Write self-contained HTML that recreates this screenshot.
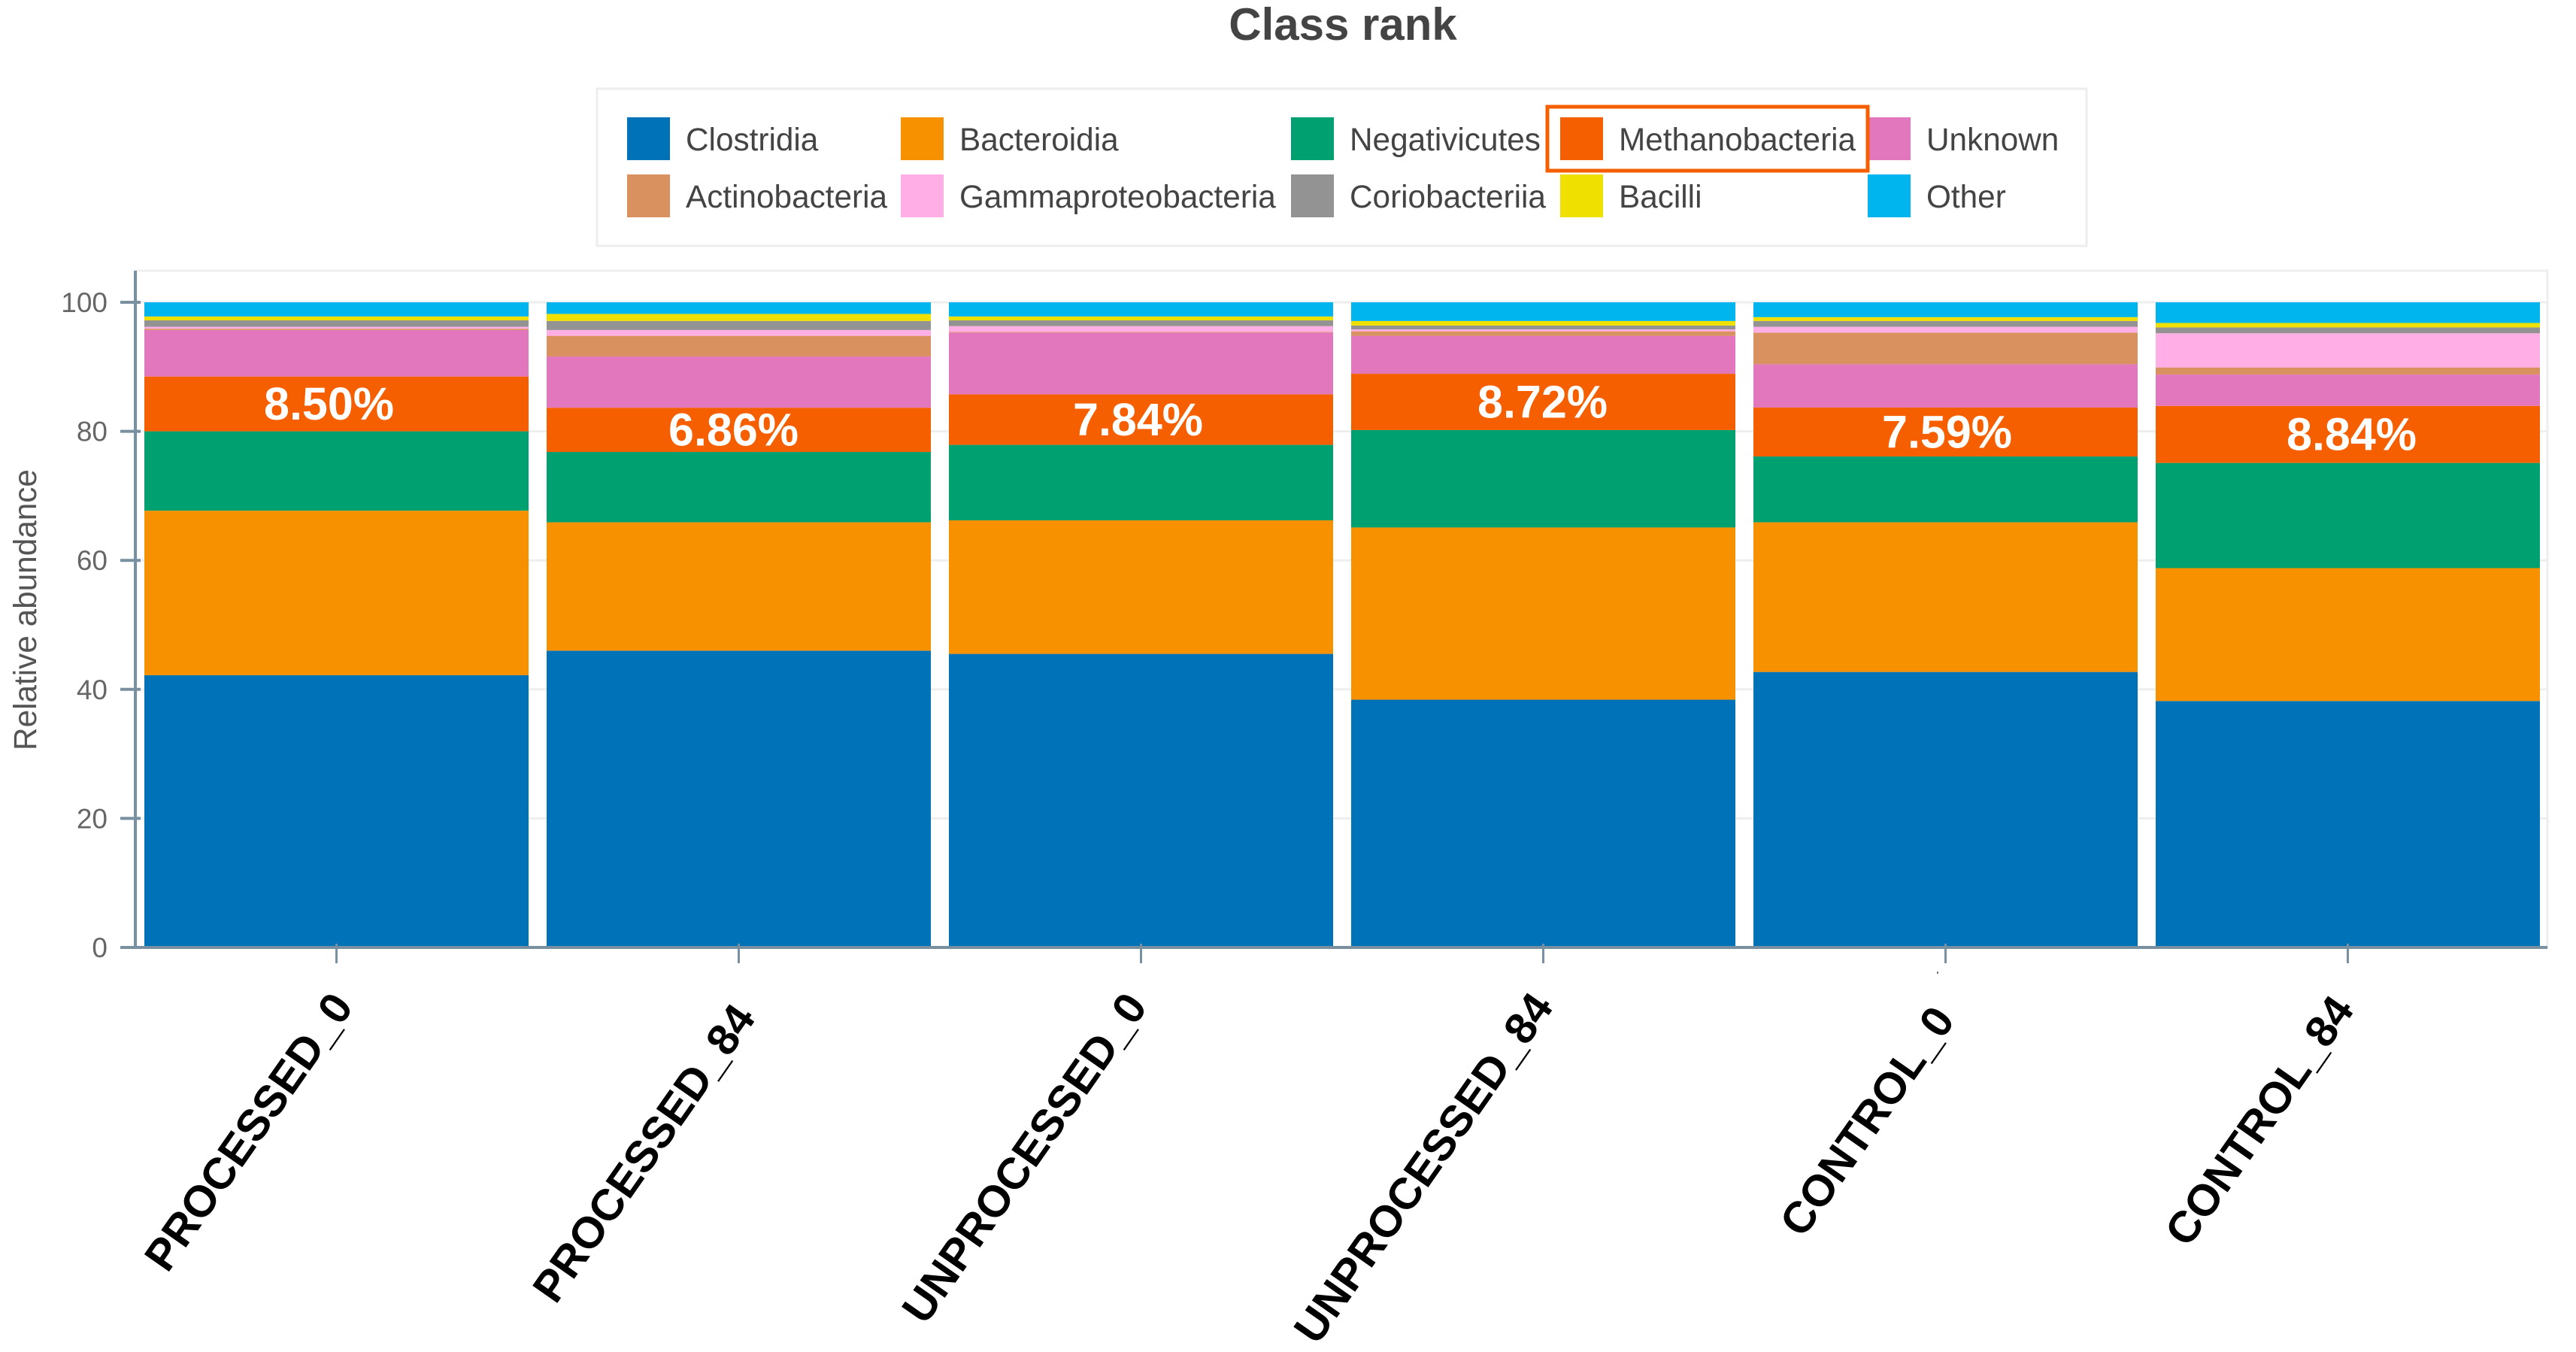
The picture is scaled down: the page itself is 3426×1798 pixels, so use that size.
<!DOCTYPE html>
<html><head><meta charset="utf-8"><title>Class rank</title>
<style>html,body{margin:0;padding:0;background:#fff}svg{display:block}text{font-family:"Liberation Sans",Arial,sans-serif}</style>
</head><body>
<svg id="chart" xmlns="http://www.w3.org/2000/svg" width="3426" height="1798" viewBox="0 0 3426 1798">
<text x="1786" y="53" text-anchor="middle" font-size="60" font-weight="700" fill="#444">Class rank</text>
<rect x="794" y="118" width="1981" height="209" fill="#fff" stroke="#eeeeee" stroke-width="3"/>
<rect x="181" y="360" width="3207" height="900" fill="#fff" stroke="#eeeeee" stroke-width="3"/>
<g id="grid"></g><g id="bars"></g><g id="axes"></g><g id="pct"></g><g id="xlabels"></g><g id="legend"></g>
<rect x="2058" y="142" width="426" height="85" fill="none" stroke="#f55f00" stroke-width="5"/>
<rect x="2576" y="1292" width="2" height="3" fill="#777"/>
<text transform="translate(48,811) rotate(-90)" text-anchor="middle" font-size="42.3" fill="#555">Relative abundance</text>
</svg>
<script>
const categories = ["PROCESSED_0","PROCESSED_84","UNPROCESSED_0","UNPROCESSED_84","CONTROL_0","CONTROL_84"];
const seriesNames = ["Clostridia","Bacteroidia","Negativicutes","Methanobacteria","Unknown","Actinobacteria","Gammaproteobacteria","Coriobacteriia","Bacilli","Other"];
const clostridia = [42.2,46.0,45.5,38.4,42.7,38.2];
const bacteroidia = [25.5,19.9,20.7,26.7,23.2,20.6];
const negativicutes = [12.3,10.9,11.7,15.1,10.2,16.3];
const methanobacteria = [8.50,6.86,7.84,8.72,7.59,8.84];
const unknown = [7.2,7.94,9.56,5.88,6.71,4.86];
const actinobacteria = [0.2,3.2,0.1,0.7,4.9,1.1];
const gammaproteobacteria = [0.3,0.9,0.9,0.3,0.9,5.3];
const coriobacteriia = [1.0,1.4,0.9,0.6,0.9,0.9];
const bacilli = [0.6,1.1,0.6,0.7,0.6,0.7];
const other = [2.2,1.8,2.2,2.9,2.3,3.2];
const yTicks = [0,20,40,60,80,100];
const seriesColors = ["#0072b8","#f79100","#00a070","#f55f00","#e377bd","#d9925f","#ffaee6","#939393","#f0e000","#00b5ee"];
const allSeries = [clostridia,bacteroidia,negativicutes,methanobacteria,unknown,actinobacteria,gammaproteobacteria,coriobacteriia,bacilli,other];

const NS = "http://www.w3.org/2000/svg";
const y0 = 1260, yPerUnit = 8.58, xStart = 180, step = 535, barW = 511, axisColor = "#7890a0";
function yScale(v){ return y0 - v * yPerUnit; }
function xBand(i){ return xStart + step * i + (step - barW) / 2; }
function xCenter(i){ return xBand(i) + barW / 2; }
function make(tag, attrs, parent){
  const el = document.createElementNS(NS, tag);
  for (const k in attrs) el.setAttribute(k, attrs[k]);
  parent.appendChild(el);
  return el;
}
const grid = document.getElementById("grid"), barsG = document.getElementById("bars"), axes = document.getElementById("axes"),
      pct = document.getElementById("pct"), xlabels = document.getElementById("xlabels"), legend = document.getElementById("legend");

yTicks.forEach(function(t){
  const g = make("line",{x1:181,x2:3388,y1:yScale(t),y2:yScale(t),stroke:"#eeeeee","stroke-width":3},grid);
  
  
  const tick = make("line",{x1:160,x2:187,y1:yScale(t),y2:yScale(t),stroke:axisColor,"stroke-width":4},axes);
  
  
  const lab = make("text",{x:143,y:yScale(t)+13,"text-anchor":"end","font-size":37,fill:"#666"},axes);
  
  
  lab.textContent = t;
});

function labelDx(i){ return [24,24,10,15,14,10][i]; }
function labelY(i){ return [1339,1354,1339,1339,1357,1343][i]; }

categories.forEach(function(c,i){
  let base = 0;
  allSeries.forEach(function(s,k){
    const v = s[i];
    const r = make("rect",{x:xBand(i),y:yScale(base+v),width:barW,height:v*yPerUnit,fill:seriesColors[k]},barsG);
    
    
    if (k === 3) {
      const t = make("text",{x:xCenter(i)+i*3-10,y:yScale(base+v/2)+21,"text-anchor":"middle","font-size":61,"font-weight":700,fill:"#fff"},pct);
      
      
      t.textContent = v.toFixed(2) + "%";
    }
    base += v;
  });
  const tk = make("line",{x1:xCenter(i),x2:xCenter(i),y1:y0-5,y2:y0+21,stroke:axisColor,"stroke-width":3},axes);
  
  
  const lb = make("text",{transform:"translate("+(xCenter(i)+labelDx(i))+","+labelY(i)+") rotate(-55)","text-anchor":"end","font-size":58.7,"font-weight":700,fill:"#000"},xlabels);
  
  
  lb.textContent = c;
});

const ax = make("line",{x1:180,x2:180,y1:360,y2:1260,stroke:axisColor,"stroke-width":4},axes);


const bx = make("line",{x1:160,x2:3388,y1:1260,y2:1260,stroke:axisColor,"stroke-width":4},axes);



const swatchCols = [834,1198,1717,2075,2484];
const swatchRows = [156,232];
seriesNames.forEach(function(n,k){
  const col = k % 5, row = k < 5 ? 0 : 1;
  const sw = make("rect",{x:swatchCols[col],y:swatchRows[row],width:57,height:57,fill:seriesColors[k]},legend);
  
  
  const t = make("text",{x:swatchCols[col]+78,y:swatchRows[row]+44,"font-size":42.3,fill:"#444"},legend);
  
  
  t.textContent = n;
});
</script>
</body></html>
